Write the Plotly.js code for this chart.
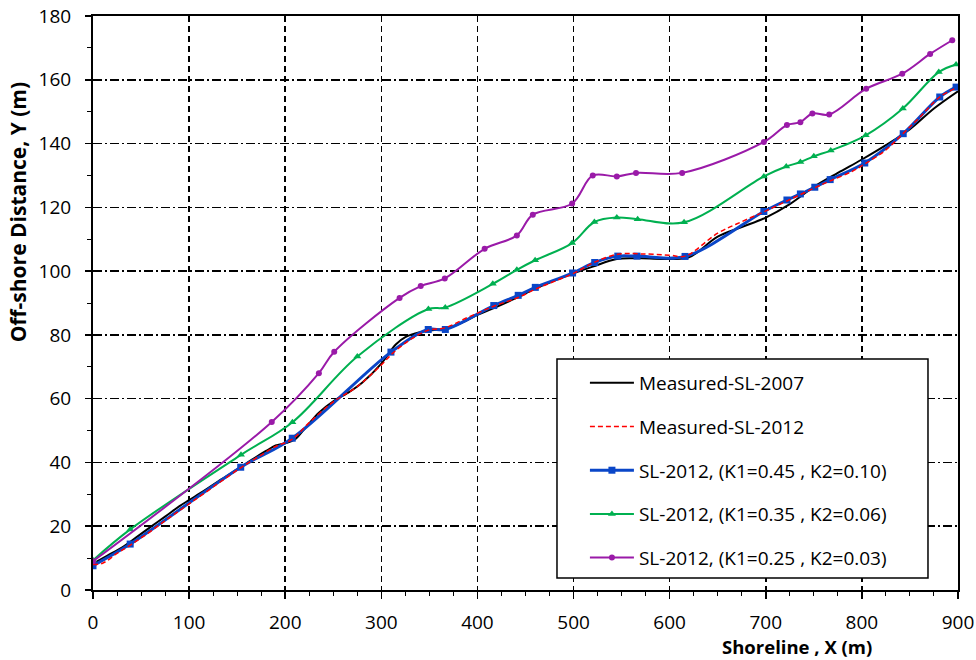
<!DOCTYPE html>
<html>
<head>
<meta charset="utf-8">
<script src="https://cdn.plot.ly/plotly-3.0.1.min.js"></script>
<style>html,body{margin:0;padding:0;background:#fff;}#chart{width:976px;height:660px;}</style>
</head>
<body>
<div id="chart"></div>
<script>
// Measured shoreline 2007
const x2007 = [0, 15, 30, 45, 60, 75, 90, 100, 115, 130, 150, 165, 180, 190, 200, 210, 220, 235, 250, 265, 280, 300, 315, 325, 340, 355, 370, 385, 400, 420, 440, 460, 480, 500, 520, 545, 570, 600, 620, 650, 675, 700, 725, 750, 775, 800, 825, 850, 875, 900];
const y2007 = [8.3, 10.8, 13.3, 16.5, 19.8, 23.0, 26.3, 28.2, 31.0, 34.0, 37.8, 40.8, 43.6, 45.3, 46.0, 47.2, 50.5, 55.6, 59.2, 61.8, 65.0, 71.0, 77.0, 79.3, 80.8, 81.5, 82.2, 84.0, 86.3, 88.8, 91.5, 94.5, 97.0, 99.3, 101.4, 103.8, 104.0, 103.8, 104.3, 110.8, 113.8, 116.8, 121.0, 126.4, 130.8, 135.0, 139.5, 144.5, 151.0, 156.4];

// Measured shoreline 2012
const x2012 = [0, 10, 25, 40, 60, 80, 100, 125, 154, 175, 190, 207, 225, 250, 275, 300, 312, 330, 349, 366, 390, 417, 443, 460, 480, 500, 522, 546, 570, 600, 616, 650, 675, 698, 722, 750, 767, 790, 803, 825, 843, 860, 881, 898];
const y2012 = [8.0, 8.4, 11.5, 14.3, 18.4, 22.8, 27.0, 32.3, 38.4, 42.3, 45.0, 47.2, 52.5, 59.0, 63.8, 70.6, 74.3, 78.5, 81.5, 82.2, 85.5, 89.0, 91.8, 94.3, 96.8, 99.3, 102.8, 105.3, 105.4, 105.0, 104.7, 111.9, 115.5, 118.6, 122.0, 126.0, 128.3, 131.3, 133.6, 138.0, 143.2, 148.2, 154.6, 157.4];

// Model K1=0.45, K2=0.10
const xK45 = [0, 38.7, 153.7, 207.3, 310, 348.8, 366.6, 417, 442.4, 460.2, 499, 522, 546, 566, 616, 698, 722, 736, 751, 767, 803, 843, 881, 898];
const yK45 = [7.6, 14.4, 38.5, 47.6, 74.6, 81.7, 81.7, 89.2, 92.4, 94.9, 99.4, 102.7, 104.7, 104.7, 104.6, 118.7, 122.3, 124.2, 126.3, 128.7, 133.9, 143.1, 154.6, 157.7];

// Model K1=0.35, K2=0.06
const xK35 = [0, 38.7, 154, 207.5, 275, 349, 366.5, 416, 441, 460, 498.5, 521.7, 545, 566.7, 615, 698, 721.3, 736, 750, 767.6, 804, 842.6, 880, 898];
const yK35 = [9.3, 19.0, 42.4, 52.6, 73.2, 88.1, 88.6, 96.0, 100.4, 103.4, 108.8, 115.4, 116.8, 116.3, 115.3, 129.7, 132.8, 134.2, 136.0, 137.8, 142.6, 151.0, 162.4, 164.8];

// Model K1=0.25, K2=0.03
const xK25 = [0, 186, 235, 251, 319, 341, 366, 407.5, 441, 457.6, 498.5, 520, 545, 565, 613, 698, 722, 736, 748.5, 766, 804.5, 842, 871, 894];
const yK25 = [9.0, 52.7, 68.0, 74.7, 91.6, 95.3, 97.7, 107.0, 111.2, 117.7, 121.2, 130.0, 129.7, 130.8, 130.8, 140.5, 145.8, 146.7, 149.4, 149.1, 157.2, 161.9, 168.1, 172.4];

const names = ['Measured-SL-2007', 'Measured-SL-2012', 'SL-2012, (K1=0.45 , K2=0.10)', 'SL-2012, (K1=0.35 , K2=0.06)', 'SL-2012, (K1=0.25 , K2=0.03)'];
const xTicks = [0, 100, 200, 300, 400, 500, 600, 700, 800, 900];
const yTicks = [0, 20, 40, 60, 80, 100, 120, 140, 160, 180];

const FONT = 'Open Sans, Noto Sans, sans-serif';

const traces = [
  {x: x2007, y: y2007, name: names[0], mode: 'lines', legendrank: 1, legendgroup: 'a',
   line: {color: '#000000', width: 2, shape: 'spline'}},
  {x: xK45, y: yK45, name: names[2], mode: 'lines+markers', legendrank: 3, legendgroup: 'c',
   line: {color: '#0a46c8', width: 3, shape: 'spline'},
   marker: {symbol: 'square', size: 7, color: '#0a46c8'}},
  {x: x2012, y: y2012, name: names[1], mode: 'lines', legendrank: 2, legendgroup: 'b',
   line: {color: '#ff0000', width: 1.5, dash: '5px,3px', shape: 'spline'}},
  {x: xK35, y: yK35, name: names[3], mode: 'lines+markers', legendrank: 4, legendgroup: 'd',
   line: {color: '#00b050', width: 2, shape: 'spline'},
   marker: {symbol: 'triangle-up', size: 7, color: '#00b050'}},
  {x: xK25, y: yK25, name: names[4], mode: 'lines+markers', legendrank: 5, legendgroup: 'e',
   line: {color: '#9a1aa8', width: 2, shape: 'spline'},
   marker: {symbol: 'circle', size: 6, color: '#9a1aa8'}}
];

const layout = {
  width: 976, height: 660,
  margin: {l: 93, r: 18, t: 16, b: 70, pad: 0},
  paper_bgcolor: '#ffffff', plot_bgcolor: '#ffffff',
  font: {family: FONT, color: '#000000', size: 18},
  showlegend: true,
  legend: {
    x: 0.5687, y: 0.3938, xanchor: 'left', yanchor: 'top',
    bgcolor: 'rgba(0,0,0,0)', borderwidth: 0,
    font: {family: FONT, size: 19, color: '#000000'},
    tracegroupgap: 16, itemwidth: 44, traceorder: 'grouped'
  },
  xaxis: {
    range: [0, 900], tickvals: xTicks, ticktext: xTicks.map(String),
    showline: true, linecolor: '#000000', linewidth: 2, mirror: true,
    ticks: 'outside', ticklen: 7, tickwidth: 1.5, tickcolor: '#000000',
    ticklabelstandoff: 7,
    showgrid: true, gridcolor: '#000000', gridwidth: 1.5, griddash: '6px,4px',
    zeroline: false,
    minor: {dtick: 25, ticks: 'outside', ticklen: 4, tickwidth: 1, tickcolor: '#000000', showgrid: false},
    tickfont: {family: FONT, size: 19, color: '#000000'}
  },
  yaxis: {
    range: [0, 180], tickvals: yTicks, ticktext: yTicks.map(String),
    showline: true, linecolor: '#000000', linewidth: 2, mirror: true,
    ticks: 'outside', ticklen: 6, tickwidth: 1.5, tickcolor: '#000000',
    ticklabelstandoff: 10,
    showgrid: true, gridcolor: '#000000', gridwidth: 1.5, griddash: '9px,3px,2px,3px',
    zeroline: false,
    minor: {dtick: 10, ticks: 'outside', ticklen: 4, tickwidth: 1, tickcolor: '#000000', showgrid: false},
    tickfont: {family: FONT, size: 19, color: '#000000'}
  },
  shapes: [
    {type: 'rect', xref: 'paper', yref: 'paper', x0: 0.5364, x1: 0.9653, y0: 0.0209, y1: 0.4024,
     line: {color: '#000000', width: 1.5}, fillcolor: '#ffffff', layer: 'above'}
  ],
  annotations: [
    {text: '<b>Off-shore Distance, Y (m)</b>', xref: 'paper', yref: 'paper', x: -0.0863, y: 0.6585,
     textangle: -90, showarrow: false, xanchor: 'center', yanchor: 'middle',
     font: {family: FONT, size: 21, color: '#000000'}},
    {text: '<b>Shoreline , X (m)</b>', xref: 'paper', yref: 'paper', x: 0.814, y: -0.0993,
     showarrow: false, xanchor: 'center', yanchor: 'middle',
     font: {family: FONT, size: 18.5, color: '#000000'}}
  ]
};

Plotly.newPlot('chart', traces, layout, {staticPlot: true, displayModeBar: false});
</script>
</body>
</html>
